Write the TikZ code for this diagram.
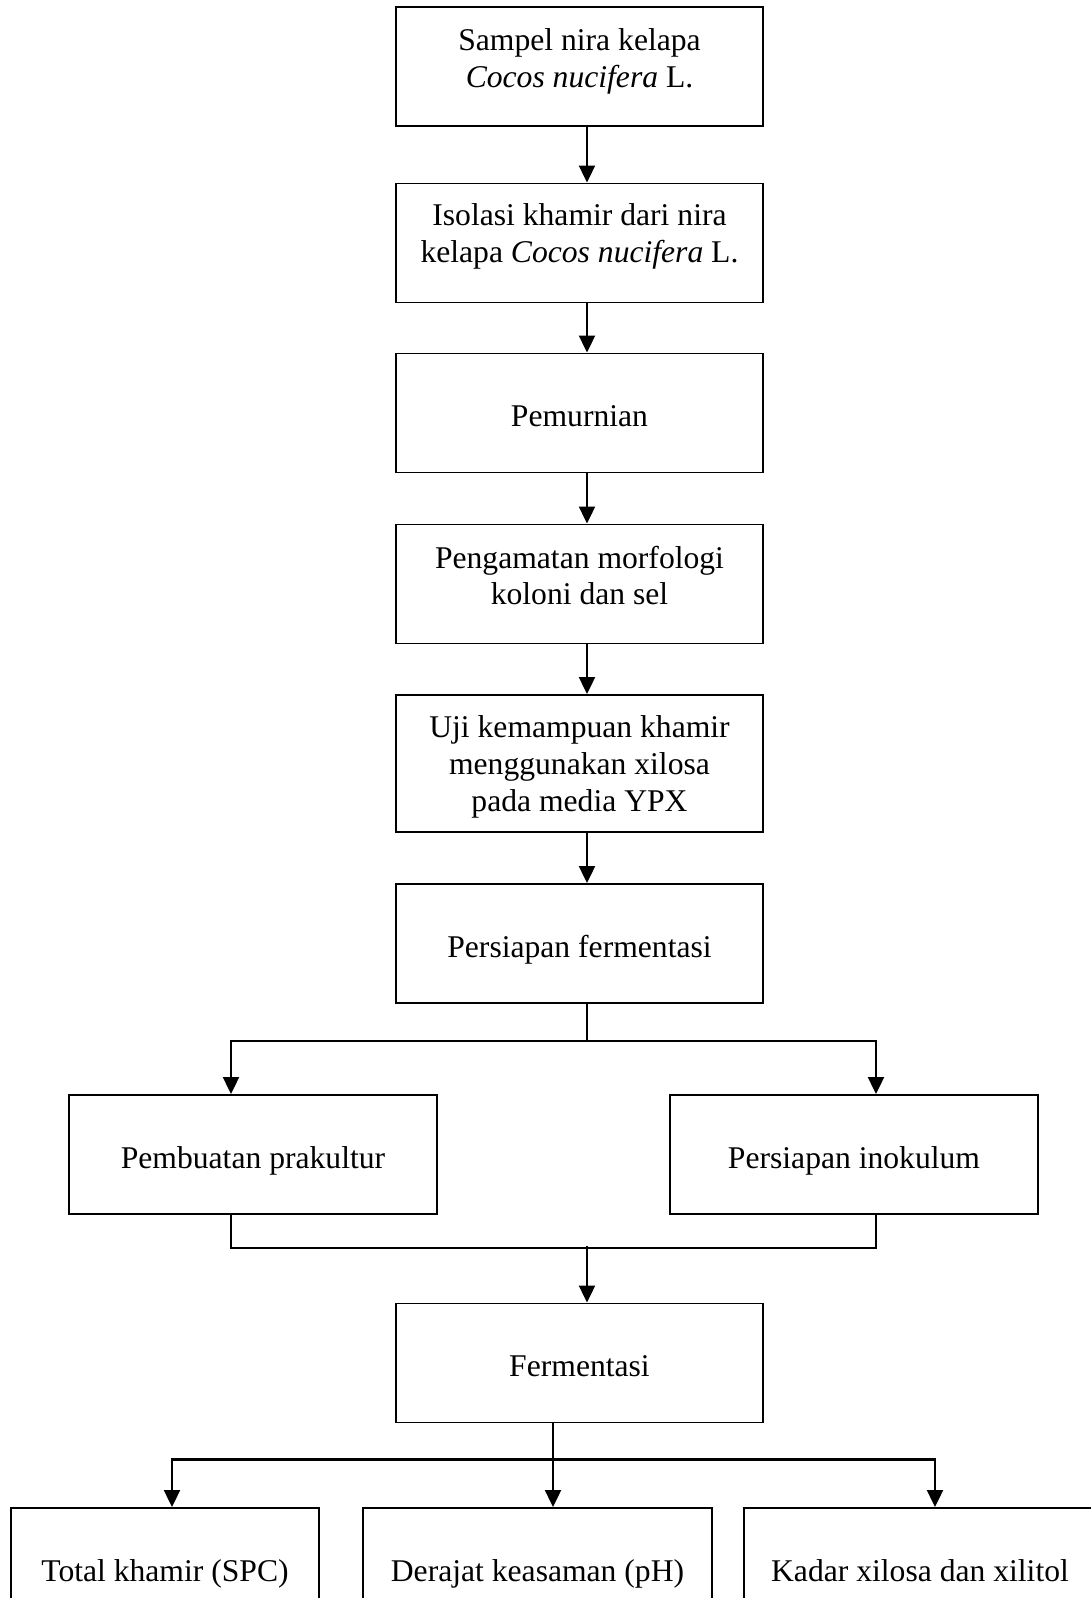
\documentclass[tikz,border=0pt]{standalone}
\usepackage{fontspec}
\setmainfont{Liberation Serif}
\usetikzlibrary{arrows.meta}

\begin{document}
\begin{tikzpicture}[x=0.02cm,y=0.02cm,font=\fontsize{18}{21}\selectfont,
    box/.style={draw,line width=1.1pt,minimum width=7.34cm,minimum height=2.38cm,inner sep=0pt,
        text height=15.8pt,text depth=0pt},
    mbox/.style={draw,line width=1.1pt,minimum width=7.34cm,minimum height=2.38cm,inner sep=0pt},
    txt/.style={align=center},
    arr/.style={line width=1.2pt,-{Triangle[length=0.34cm,width=0.32cm]}},
    ln/.style={line width=0.7pt}]
\useasboundingbox (0,0) rectangle (1091,-1598);
\clip (0,0) rectangle (1091,-1598);
\node[mbox,label={[txt,yshift=0.11cm]center:{Sampel nira kelapa\\\textit{Cocos nucifera} L.}}] (smp) at (579.5,-66.5) {};
\node[mbox,label={[txt,yshift=0.14cm]center:{Isolasi khamir dari nira\\kelapa \textit{Cocos nucifera} L.}}] (iso) at (579.5,-243) {};
\node[box] (pmr) at (579.5,-413) {Pemurnian};
\node[mbox,label={[txt,yshift=0.17cm]center:{Pengamatan morfologi\\koloni dan sel}}] (mrf) at (579.5,-584) {};
\node[mbox,minimum height=2.74cm,label={[txt,yshift=-0.06cm]center:{Uji kemampuan khamir\\menggunakan xilosa\\pada media YPX}}] (uji) at (579.5,-763.5) {};
\node[box] (fer) at (579.5,-943.5) {Persiapan fermentasi};
\node[box,minimum width=7.36cm] (pra) at (253,-1154.5) {Pembuatan prakultur};
\node[box,minimum width=7.36cm] (ino) at (854,-1154.5) {Persiapan inokulum};
\node[box] (frm) at (579.5,-1363) {Fermentasi};
\node[box,minimum width=6.16cm,minimum height=2.4cm] (spc) at (165,-1568) {Total khamir (SPC)};
\node[box,minimum width=6.98cm,minimum height=2.4cm] (ph) at (537.5,-1568) {Derajat keasaman (pH)};
\node[box,minimum width=7.04cm,minimum height=2.4cm] (xyl) at (920,-1568) {Kadar xilosa dan xilitol};
\foreach \a/\b in {smp/iso,iso/pmr,pmr/mrf,mrf/uji,uji/fer}
    \draw[arr] ([xshift=0.15cm]\a.south) -- ([xshift=0.15cm]\b.north);
\draw[ln] ([xshift=0.15cm]fer.south) -- ++(0,-37) coordinate (spl);
\draw[arr] (spl) -| ([xshift=-0.44cm]pra.north);
\draw[arr] (spl) -| ([xshift=0.44cm]ino.north);
\draw[ln] ([xshift=-0.44cm]pra.south) -- ++(0,-33) -| ([xshift=0.44cm]ino.south);
\coordinate (jn) at ([xshift=0.15cm,yshift=1.14cm]frm.north);
\draw[arr] (jn) -- ([xshift=0.15cm]frm.north);
\draw[ln] ([xshift=-0.53cm]frm.south) -- ++(0,-36) coordinate (brn);
\draw[arr] (brn) -| ([xshift=0.14cm]spc.north);
\draw[arr] (brn) -| ([xshift=0.3cm]xyl.north);
\draw[arr] (brn) -- (brn |- ph.north);
\end{tikzpicture}
\end{document}
